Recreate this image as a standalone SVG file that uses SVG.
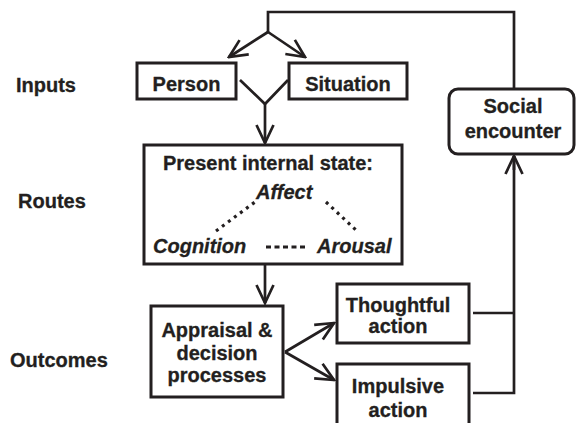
<svg xmlns="http://www.w3.org/2000/svg" width="576" height="423" viewBox="0 0 576 423">
<defs>
<style>
text{font-family:"Liberation Sans",Arial,sans-serif;font-weight:bold;font-size:20px;fill:#231f20;stroke:#231f20;stroke-width:0.3}
.c{text-anchor:middle}
.i{font-style:italic}
.box{fill:#fff;stroke:#231f20;stroke-width:3}
.ln{fill:none;stroke:#231f20;stroke-width:2.7;stroke-linejoin:miter}
.dot{fill:none;stroke:#231f20;stroke-width:3.2}
</style>
<marker id="ah" viewBox="-20 -11 22 22" refX="0" refY="0" markerWidth="22" markerHeight="22" markerUnits="userSpaceOnUse" orient="auto">
<path d="M-18,-8.5 L0,0 L-18,8.5" fill="none" stroke="#231f20" stroke-width="2.7"/>
</marker>
</defs>
<rect width="576" height="423" fill="#fff"/>
<g id="labels">
<text x="16" y="92">Inputs</text>
<text x="18" y="208">Routes</text>
<text x="10" y="367">Outcomes</text>
</g>
<g id="connectors">
<polyline class="ln" points="514,89 514,12 268,12 268,32"/>
<line class="ln" x1="268" y1="32" x2="229" y2="57" marker-end="url(#ah)"/>
<line class="ln" x1="268" y1="32" x2="305" y2="57" marker-end="url(#ah)"/>
<polyline class="ln" points="240,80 265,104 288,80"/>
<line class="ln" x1="265" y1="104" x2="265" y2="143" marker-end="url(#ah)"/>
<line class="ln" x1="265" y1="264" x2="265" y2="303" marker-end="url(#ah)"/>
<line class="ln" x1="285" y1="352" x2="334" y2="323" marker-end="url(#ah)"/>
<line class="ln" x1="285" y1="352" x2="334" y2="380" marker-end="url(#ah)"/>
<line class="ln" x1="473" y1="313" x2="514" y2="313"/>
<polyline class="ln" points="473,393 514,393 514,156"/>
<line class="ln" x1="514" y1="170" x2="514" y2="156" marker-end="url(#ah)"/>
</g>
<g id="person">
<rect class="box" x="137" y="63" width="99" height="36"/>
<text class="c" x="186.5" y="91">Person</text>
</g>
<g id="situation">
<rect class="box" x="289" y="63" width="118" height="36"/>
<text class="c" x="348" y="91">Situation</text>
</g>
<g id="state">
<rect class="box" x="144" y="145" width="258" height="119"/>
<text class="c" x="268" y="170">Present internal state:</text>
<text class="i" x="256" y="199">Affect</text>
<text class="i" x="153" y="253">Cognition</text>
<text class="i" x="317" y="253">Arousal</text>
<line class="dot" x1="216" y1="231" x2="255" y2="202" stroke-dasharray="3,4.5"/>
<line class="dot" x1="326" y1="202" x2="358" y2="232" stroke-dasharray="3,4.5"/>
<line class="dot" x1="266" y1="247" x2="305" y2="247" stroke-dasharray="5,3.5"/>
</g>
<g id="appraisal">
<rect class="box" x="151" y="306" width="132" height="91"/>
<text class="c" x="217" y="337">Appraisal &amp;</text>
<text class="c" x="217" y="360">decision</text>
<text class="c" x="217" y="382">processes</text>
</g>
<g id="thoughtful">
<rect class="box" x="337" y="284" width="132" height="59"/>
<text class="c" x="398" y="312">Thoughtful</text>
<text class="c" x="398" y="333">action</text>
</g>
<g id="impulsive">
<rect class="box" x="337" y="364" width="132" height="62"/>
<text class="c" x="398" y="393">Impulsive</text>
<text class="c" x="398" y="417">action</text>
</g>
<g id="social">
<rect class="box" x="449" y="89" width="125" height="65" rx="9"/>
<text class="c" x="513" y="113">Social</text>
<text class="c" x="513" y="138">encounter</text>
</g>
</svg>
